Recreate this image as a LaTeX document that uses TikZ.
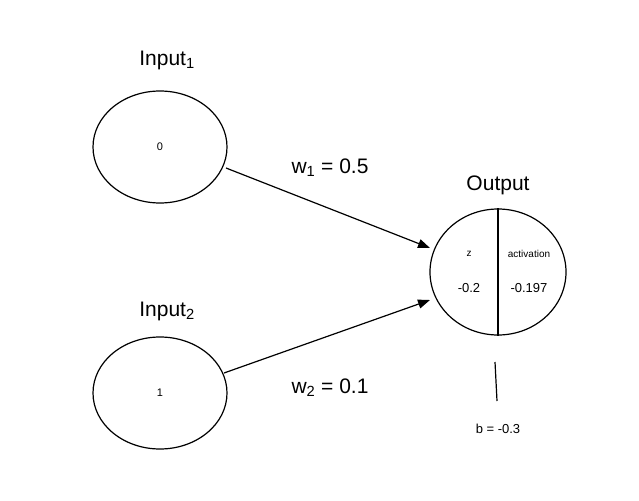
\documentclass[tikz,border=0pt]{standalone}
\usepackage{fontspec}
\setmainfont{Liberation Sans}
\usetikzlibrary{shapes.geometric,arrows.meta}
\begin{document}
\begin{tikzpicture}[x=1pt,y=-1pt,
  neuron/.style={draw,ellipse,line width=1.2pt,minimum width=134pt,minimum height=112pt,inner sep=0pt},
  conn/.style={line width=1.2pt,-{Triangle[length=12pt,width=9pt]}},
  big/.style={font=\fontsize{21}{24}\selectfont},
  small/.style={font=\fontsize{11}{13}\selectfont}]
\useasboundingbox (0,0) rectangle (639,500);
\node[neuron,small] (i1) at (160,147) {0};
\node[neuron,small] (i2) at (160,393) {1};
\node[neuron,minimum width=136pt,minimum height=126pt] (o) at (498,272) {};
\draw[line width=1.2pt] (o.north) -- (o.south);
\node[big] (l1) at (167,60) {Input\textsubscript{1}};
\node[big] (l2) at (167,311) {Input\textsubscript{2}};
\node[big] (lo) at (498,185) {Output};
\node[font=\fontsize{10}{12}\selectfont] (z) at (469,254) {z};
\node[font=\fontsize{10}{12}\selectfont] (act) at (529,254) {activation};
\node[font=\fontsize{13}{15}\selectfont] (zv) at (469,288) {-0.2};
\node[font=\fontsize{13}{15}\selectfont] (av) at (529,288) {-0.197};
\draw[conn] (226,168) -- (430,248);
\draw[conn] (224,373) -- (430,300);
\node[big] (w1) at (330,168) {w\textsubscript{1} = 0.5};
\node[big] (w2) at (330,388) {w\textsubscript{2} = 0.1};
\coordinate (bt) at (495,362);
\coordinate (bb) at (497,401);
\draw[line width=1.2pt] (bt) -- (bb);
\node[font=\fontsize{13}{15}\selectfont] (b) at (498,429) {b = -0.3};
\end{tikzpicture}
\end{document}
